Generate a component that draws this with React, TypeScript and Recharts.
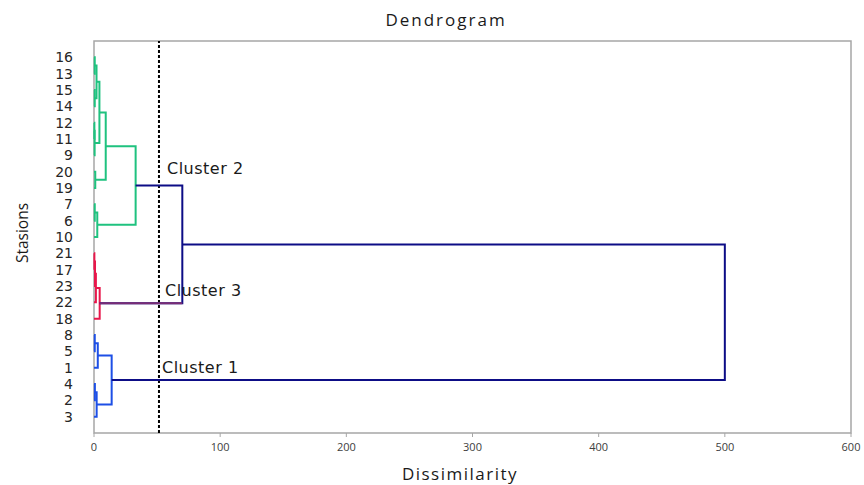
import React from "react";
import { ComposedChart, Scatter, XAxis, YAxis, ReferenceLine, ReferenceArea } from "recharts";

// leaf order, top to bottom
const stations = ["16", "13", "15", "14", "12", "11", "9", "20", "19", "7", "6", "10", "21", "17", "23", "22", "18", "8", "5", "1", "4", "2", "3"];
const xTicks = [0, 100, 200, 300, 400, 500, 600];
const cutoff = 51.5;

// linkage: children are station names or "m<index>" of an earlier merge
const mergeLeft = ["16", "15", "m0", "12", "m3", "m2", "20", "m5", "7", "m8", "m7", "21", "m11", "m12", "m13", "m10", "8", "m16", "4", "m18", "m17", "m15"];
const mergeRight = ["13", "14", "m1", "11", "9", "m4", "19", "m6", "6", "10", "m9", "17", "23", "22", "18", "m14", "5", "1", "2", "3", "m19", "m20"];
const mergeHeight = [0.6, 0.6, 2.0, 0.3, 0.5, 4.3, 1.0, 9.3, 0.6, 2.6, 33, 0.3, 0.8, 1.5, 4.5, 70, 0.6, 3.0, 0.7, 2.1, 14, 500];
const mergeGroup = ["g", "g", "g", "g", "g", "g", "g", "g", "g", "g", "g", "r", "r", "r", "r", "n", "b", "b", "b", "b", "b", "n"];

const colors: Record<string, string> = {
  g: "#1FC27F",
  r: "#E8174B",
  b: "#1D4FE6",
  n: "#0D0D86",
  p: "#7A2C74",
};
// legs drawn in a colour other than the parent's
const legOverride: Record<string, string> = { m14: "p" };

const posOf = (id: string): number => {
  if (id.startsWith("m")) {
    const i = Number(id.slice(1));
    return (posOf(mergeLeft[i]) + posOf(mergeRight[i])) / 2;
  }
  return stations.length - stations.indexOf(id);
};
const heightOf = (id: string) => (id.startsWith("m") ? mergeHeight[Number(id.slice(1))] : 0);

type Seg = { key: string; color: string; pts: { x: number; y: number }[] };
const segments: Seg[] = [];
const overlays: Seg[] = [];
mergeHeight.forEach((h, i) => {
  const a = mergeLeft[i];
  const b = mergeRight[i];
  const ya = posOf(a);
  const yb = posOf(b);
  segments.push({
    key: "m" + i,
    color: colors[mergeGroup[i]],
    pts: [
      { x: heightOf(a), y: ya },
      { x: h, y: ya },
      { x: h, y: yb },
      { x: heightOf(b), y: yb },
    ],
  });
  [a, b].forEach((c) => {
    if (legOverride[c]) {
      const yc = posOf(c);
      overlays.push({
        key: "leg" + c,
        color: colors[legOverride[c]],
        pts: [
          { x: heightOf(c), y: yc },
          { x: h, y: yc },
        ],
      });
    }
  });
});

const yTicks = stations.map((_, i) => i + 1);

const noDot = () => <g />;

export default function App() {
  return (
    <div
      style={{
        position: "fixed",
        left: 0,
        top: 0,
        width: 864,
        height: 485,
        overflow: "hidden",
        background: "#fff",
        fontFamily: "'Open Sans', sans-serif",
        color: "#1a1a1a",
      }}
    >
      <ComposedChart width={864} height={485} margin={{ top: 41, right: 13, bottom: 22, left: 34 }}>
        <XAxis
          type="number"
          dataKey="x"
          domain={[0, 600]}
          ticks={xTicks}
          interval={0}
          axisLine={false}
          tickLine={{ stroke: "#a6a6a6" }}
          tickSize={4}
          tickMargin={6}
          height={30}
          tick={{ fontSize: 11, fill: "#404040", fontFamily: "'Open Sans', sans-serif" }}
        />
        <YAxis
          type="number"
          dataKey="y"
          domain={[0, 24]}
          ticks={yTicks}
          interval={0}
          axisLine={false}
          tickLine={false}
          tickSize={0}
          tickMargin={21}
          width={60}
          tickFormatter={(v: number) => stations[stations.length - v]}
          tick={{ fontSize: 14, fill: "#262626", fontFamily: "'DejaVu Sans', sans-serif" }}
        />
        <ReferenceArea x1={0} x2={600} y1={0} y2={24} fill="none" stroke="#a6a6a6" strokeWidth={1.5} />
        {segments.concat(overlays).map((s) => (
          <Scatter
            key={s.key}
            data={s.pts}
            fill={s.color}
            line={{ stroke: s.color, strokeWidth: 2 }}
            shape={noDot}
            legendType="none"
            isAnimationActive={false}
          />
        ))}
        <ReferenceLine x={cutoff} stroke="#000" strokeWidth={2} strokeDasharray="3 2" />
      </ComposedChart>

      <div style={{ position: "absolute", left: 296, width: 300, top: 10, textAlign: "center", fontSize: 17, lineHeight: "20px", letterSpacing: 2 }}>
        Dendrogram
      </div>
      <div style={{ position: "absolute", left: 310, width: 300, top: 464, textAlign: "center", fontSize: 17, lineHeight: "20px", letterSpacing: 1.5, whiteSpace: "nowrap" }}>
        Dissimilarity
      </div>
      <div
        style={{
          position: "absolute",
          left: 22 - 50,
          width: 100,
          top: 233 - 11,
          textAlign: "center",
          fontSize: 15.5,
          lineHeight: "22px",
          transform: "rotate(-90deg)",
        }}
      >
        Stasions
      </div>
      {[
        ["Cluster 2", 167, 169],
        ["Cluster 3", 165, 291],
        ["Cluster 1", 162, 368],
      ].map(([t, x, y]) => (
        <div
          key={t as string}
          style={{
            position: "absolute",
            left: x as number,
            top: (y as number) - 10,
            fontSize: 16,
            lineHeight: "20px",
            letterSpacing: 0.5,
            fontFamily: "'DejaVu Sans', sans-serif",
            color: "#1a1a1a",
          }}
        >
          {t}
        </div>
      ))}
    </div>
  );
}
